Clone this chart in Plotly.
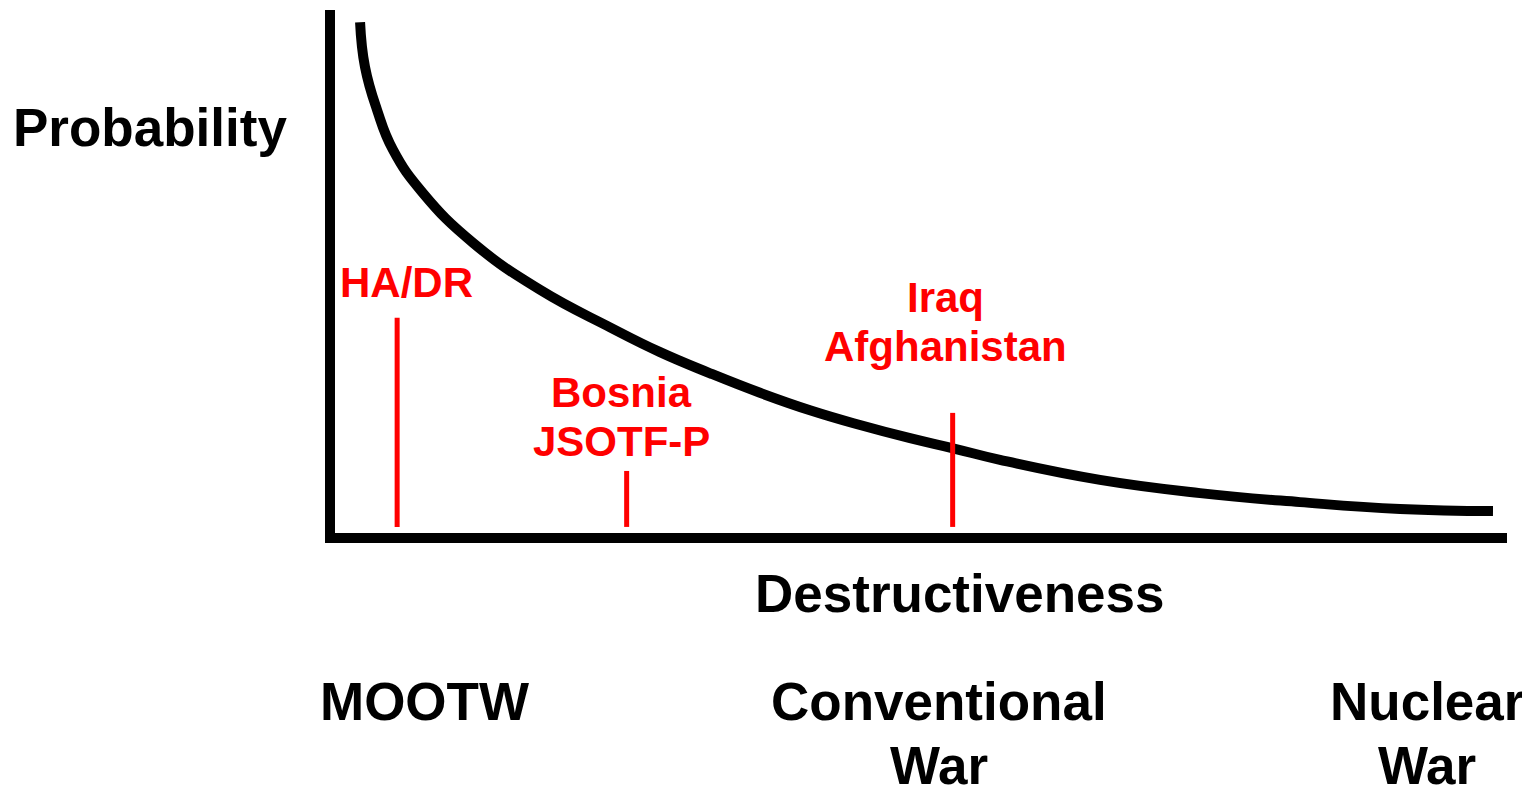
import plotly.graph_objects as go

# ---- data (destructiveness 0-100, probability 0-100) ----
curve_x = [2.55, 2.97, 3.99, 5.35, 7.90, 12.15, 17.84, 23.79, 28.04, 32.29, 36.53, 40.78,
           45.03, 49.28, 53.10, 56.92, 65.42, 73.92, 82.41, 90.91, 98.81]
curve_y = [97.7, 89.2, 81.1, 73.5, 65.3, 55.9, 47.0, 39.9, 35.2, 31.2, 27.5, 24.2,
           21.4, 18.9, 16.9, 14.8, 11.0, 8.5, 6.8, 5.5, 5.1]

event_labels = ["HA/DR", "Bosnia<br>JSOTF-P", "Iraq<br>Afghanistan"]
event_x = [5.7, 25.2, 52.9]
event_top = [41.7, 12.7, 23.7]
event_base = 2.1
event_label_x = [6.5, 24.8, 52.3]
event_label_y = [48.3, 27.5, 45.5]

category_labels = ["MOOTW", "Conventional<br>War", "Nuclear<br>War"]
category_x = [8.0, 51.7, 93.2]

x_title = "Destructiveness"
y_title = "Probability"

FONT = "Arial, 'Liberation Sans', sans-serif"
RED = "#ff0000"

fig = go.Figure()

fig.add_trace(go.Scatter(x=curve_x, y=curve_y, mode="lines",
                         line=dict(color="black", width=10, shape="spline", smoothing=1.3),
                         hoverinfo="skip", showlegend=False))

for ex, et in zip(event_x, event_top):
    fig.add_trace(go.Scatter(x=[ex, ex], y=[event_base, et], mode="lines",
                             line=dict(color=RED, width=5),
                             hoverinfo="skip", showlegend=False))

annotations = []
# event labels: stacked lines
for lab, lx, ly in zip(event_labels, event_label_x, event_label_y):
    for i, ln in enumerate(lab.split("<br>")):
        annotations.append(dict(x=lx, y=ly, xref="x", yref="y", text=ln, showarrow=False,
                                xanchor="center", yanchor="middle", yshift=-49 * i,
                                font=dict(family=FONT, size=42, color=RED, weight="bold")))

# category labels beneath the axis
for lab, cx in zip(category_labels, category_x):
    for i, ln in enumerate(lab.split("<br>")):
        annotations.append(dict(x=cx, y=0, xref="x", yref="paper", text=ln, showarrow=False,
                                xanchor="center", yanchor="middle", yshift=-168 - i * 64,
                                font=dict(family=FONT, size=53, color="black", weight="bold")))

annotations.append(dict(x=53.5, y=0, xref="x", yref="paper", text=x_title, showarrow=False,
                        xanchor="center", yanchor="middle", yshift=-60,
                        font=dict(family=FONT, size=53, color="black", weight="bold")))
annotations.append(dict(x=0, y=77.8, xref="paper", yref="y", text=y_title, showarrow=False,
                        xanchor="center", yanchor="middle", xshift=-185,
                        font=dict(family=FONT, size=53, color="black", weight="bold")))

# page body keeps an 8px margin, so the figure is 8px smaller on each axis
fig.update_layout(
    width=1522, height=779,
    margin=dict(l=327, r=23, t=2, b=254),
    paper_bgcolor="white", plot_bgcolor="white",
    annotations=annotations,
    showlegend=False,
)

fig.update_xaxes(range=[0.42, 100], showline=True, linecolor="black", linewidth=10,
                 showgrid=False, zeroline=False, showticklabels=False, ticks="", fixedrange=True)
fig.update_yaxes(range=[0.95, 100], showline=True, linecolor="black", linewidth=10,
                 showgrid=False, zeroline=False, showticklabels=False, ticks="", fixedrange=True)

fig.write_html("out.html", config={"displayModeBar": False})
